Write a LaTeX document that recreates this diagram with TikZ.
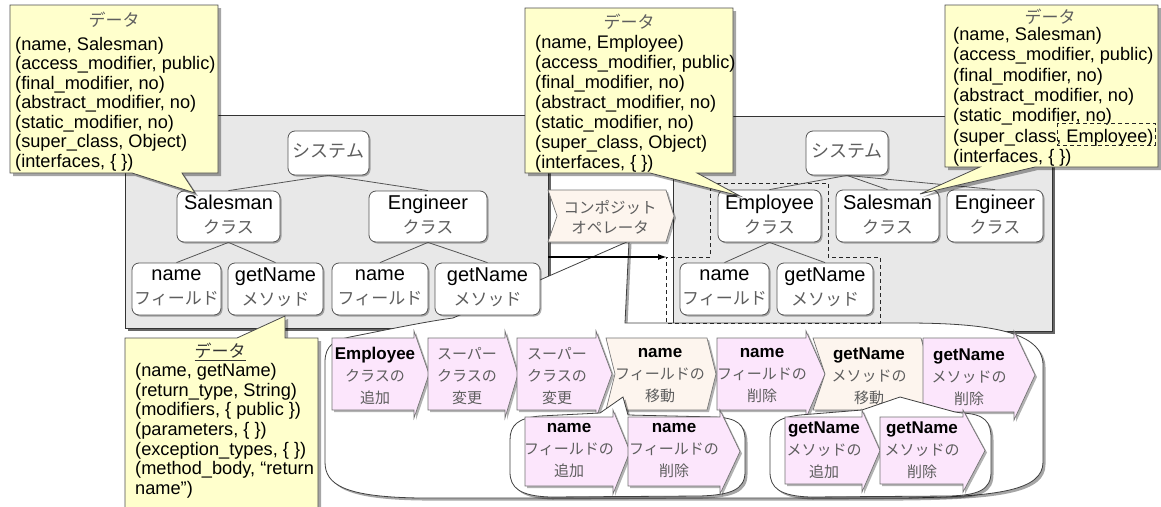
\documentclass[tikz,border=0pt]{standalone}
\usepackage{fontspec}
\setmainfont{Liberation Sans}
\newfontfamily\jp{Noto Sans CJK JP}
\usetikzlibrary{shadows,arrows.meta}
\definecolor{panelgray}{HTML}{E8E8E8}
\definecolor{calloutyellow}{HTML}{FFFFCC}
\definecolor{chevpink}{HTML}{FCE6FC}
\definecolor{chevbeige}{HTML}{FDF5EE}
\definecolor{jpgray}{HTML}{5E5E5E}
\definecolor{edgegray}{HTML}{555555}
\newcommand{\Jt}[1]{{\jp\mdseries\fontsize{17}{24}\selectfont\color{jpgray}#1}}
\newcommand{\Js}[1]{{\jp\mdseries\fontsize{15}{22}\selectfont\color{jpgray}#1}}
\newcommand{\ArrBox}[5]{%
  \path[chpink] (#1,#4) -- (#2,#4) -- (#2,#4-7) -- (#3,{(#4+#5)/2}) -- (#2,#5+8) -- (#2,#5) -- (#1,#5) -- cycle;}
\newcommand{\ChevBox}[6]{%
  \path[chbeige] (#1,#5) -- (#3,#5) -- (#4,{(#5+#6)/2}) -- (#3,#6) -- (#1,#6) -- (#2,{(#5+#6)/2}) -- cycle;}
\begin{document}
\begin{tikzpicture}[x=1pt,y=-1pt,
  panel/.style={draw=black!80, fill=panelgray, line width=0.8pt,
    drop shadow={shadow xshift=2.5pt, shadow yshift=-2.5pt, fill=black!60, opacity=1}},
  tbox/.style={draw=edgegray, fill=white, rounded corners=7pt, line width=0.8pt, inner sep=0pt,
    align=center, font=\fontsize{20}{24}\selectfont, execute at begin node={\vphantom{Eg}},
    drop shadow={shadow xshift=1.5pt, shadow yshift=-1.5pt, fill=black, opacity=0.3}},
  sysbox/.style={tbox, execute at begin node={}, font=\jp\fontsize{18}{22}\selectfont, text=jpgray},
  callout/.style={draw=black!70, fill=calloutyellow, line width=0.8pt,
    drop shadow={shadow xshift=3pt, shadow yshift=-3pt, fill=black, opacity=0.35}},
  ctext/.style={anchor=north west, inner sep=0pt, align=left},
  ctitle/.style={inner sep=0pt, font=\jp\fontsize{17}{20}\selectfont, text=jpgray},
  chpink/.style={draw=black!55, fill=chevpink, line width=0.7pt,
    drop shadow={shadow xshift=2pt, shadow yshift=-2pt, fill=black, opacity=0.3}},
  chbeige/.style={draw=black!55, fill=chevbeige, line width=0.7pt,
    drop shadow={shadow xshift=2pt, shadow yshift=-2pt, fill=black, opacity=0.3}},
  chtext/.style={inner sep=0pt, align=center, font=\fontsize{17}{22}\selectfont\bfseries,
    execute at begin node={\vphantom{Ep}}},
  bubble/.style={draw=black!75, fill=white, line width=0.8pt,
    drop shadow={shadow xshift=2.5pt, shadow yshift=-2.5pt, fill=black, opacity=0.35}},
  link/.style={draw=edgegray, line width=0.8pt},
  dashline/.style={draw=black!85, line width=0.8pt, dash pattern=on 4pt off 3pt}
]
\path[use as bounding box] (0,0) rectangle (1161,506);
\clip (0,0) rectangle (1161,506);

% panels
\node[panel, minimum width=423pt, minimum height=213pt, inner sep=0pt] (lpanel) at (336.5,221.5) {};
\node[panel, minimum width=379pt, minimum height=215pt, inner sep=0pt] (rpanel) at (862.5,223.5) {};

% big bubble (callout of the composite operator)
\path[bubble] (453,318) -- (629,241) -- (625,323) -- (905,323)
  .. controls (990,323) and (1043,332) .. (1043,365) -- (1043,462)
  .. controls (1043,490) and (1000,497) .. (900,498) -- (420,498)
  .. controls (345,497) and (325,485) .. (325,462) -- (325,362)
  .. controls (325,345) and (335,340) .. (350,337)
  .. controls (400,327) and (430,321) .. (453,318) -- cycle;

% composite operator
\ChevBox{548}{557}{666}{674}{190}{242}
\node[inner sep=0pt, align=center, font=\jp\fontsize{15.5}{20}\selectfont, text=jpgray] (op) at (610,217) {コンポジット\\オペレータ};

% left tree
\node[sysbox, minimum width=81pt, minimum height=44pt] (sysL) at (328.5,153) {システム};
\node[tbox, minimum width=103pt, minimum height=51pt] (salL) at (228.5,216.5) {Salesman\\\Jt{クラス}};
\node[tbox, minimum width=118pt, minimum height=51pt] (engL) at (428,216.5) {Engineer\\\Jt{クラス}};
\node[tbox, minimum width=89pt, minimum height=52pt] (nameL1) at (176.5,289) {name\\\Jt{フィールド}};
\node[tbox, minimum width=95pt, minimum height=52pt] (getL1) at (275.5,289) {getName\\\Jt{メソッド}};
\node[tbox, minimum width=96pt, minimum height=52pt] (nameL2) at (380,289) {name\\\Jt{フィールド}};
\node[tbox, minimum width=105pt, minimum height=52pt] (getL2) at (487.5,289) {getName\\\Jt{メソッド}};
\draw[link] (sysL.south) -- (salL.north);
\draw[link] (sysL.south) -- (engL.north);
\draw[link] (salL.south) -- (nameL1.north);
\draw[link] (salL.south) -- (getL1.north);
\draw[link] (engL.south) -- (nameL2.north);
\draw[link] (engL.south) -- (getL2.north);

% dashed region and arrow
\path[dashline] (710,183) -- (828,183) -- (828,257) -- (880,257) -- (880,323) -- (666,323) -- (666,257) -- (710,257) -- cycle;
\coordinate (arrS) at (548,257);
\coordinate (arrE) at (667,257);
\draw[line width=1.5pt, -{Latex[length=9pt,width=6pt]}] (arrS) -- (arrE);

% right tree
\node[sysbox, minimum width=82pt, minimum height=44pt] (sysR) at (847,153) {システム};
\node[tbox, minimum width=103pt, minimum height=52pt] (empR) at (769.5,216) {Employee\\\Jt{クラス}};
\node[tbox, minimum width=103pt, minimum height=52pt] (salR) at (887.5,216) {Salesman\\\Jt{クラス}};
\node[tbox, minimum width=96pt, minimum height=52pt] (engR) at (995,216) {Engineer\\\Jt{クラス}};
\node[tbox, minimum width=89pt, minimum height=52pt] (nameR) at (724.5,289) {name\\\Jt{フィールド}};
\node[tbox, minimum width=96pt, minimum height=52pt] (getR) at (825,289) {getName\\\Jt{メソッド}};
\draw[link] (sysR.south) -- (empR.north);
\draw[link] (sysR.south) -- (salR.north);
\draw[link] (sysR.south) -- (engR.north);
\draw[link] (empR.south) -- (nameR.north);
\draw[link] (empR.south) -- (getR.north);

% top-left callout
\path[callout] (10,5) -- (218,5) -- (218,173) -- (182,173) -- (195,193) -- (132,173) -- (10,173) -- cycle;
\node[ctitle] (d1t) at (114,20) {データ};
\node[ctext, font=\fontsize{18.2}{19.5}\selectfont] (d1) at (15,37) {(name, Salesman)\\(access\_modifier, public)\\(final\_modifier, no)\\(abstract\_modifier, no)\\(static\_modifier, no)\\(super\_class, Object)\\(interfaces, \{ \})};

% top-middle callout
\path[callout] (525,8) -- (733,8) -- (733,173) -- (697,173) -- (740,196) -- (650,173) -- (525,173) -- cycle;
\node[ctitle] (d2t) at (629,22) {データ};
\node[ctext, font=\fontsize{18.2}{20.1}\selectfont] (d2) at (535,35) {(name, Employee)\\(access\_modifier, public)\\(final\_modifier, no)\\(abstract\_modifier, no)\\(static\_modifier, no)\\(super\_class, Object)\\(interfaces, \{ \})};

% top-right callout
\path[callout] (945,5) -- (1158,5) -- (1158,167) -- (1035,167) -- (920,194) -- (980,167) -- (945,167) -- cycle;
\node[ctitle] (d3t) at (1050,17) {データ};
\node[ctext, font=\fontsize{18.2}{20.4}\selectfont] (d3) at (953,27) {(name, Salesman)\\(access\_modifier, public)\\(final\_modifier, no)\\(abstract\_modifier, no)\\(static\_modifier, no)\\(super\_class, Employee)\\(interfaces, \{ \})};
\path[dashline] (1057,123) rectangle (1155,145);

% bottom-left callout
\path[callout] (125,338) -- (237,338) -- (285,316) -- (285,338) -- (318,338) -- (318,520) -- (125,520) -- cycle;
\node[ctitle, text=black!80] (d4t) at (220,352) {\underline{データ}};
\node[ctext, font=\fontsize{18.2}{19.7}\selectfont] (d4) at (135,363) {(name, getName)\\(return\_type, String)\\(modifiers, \{ public \})\\(parameters, \{ \})\\(exception\_types, \{ \})\\(method\_body, “return\\name”)};

% row 1 of steps
\ArrBox{332}{414}{429}{338}{410}
\node[chtext] (a1) at (375,377) {Employee\\\Js{クラスの}\\\Js{追加}};
\ArrBox{428}{505}{518}{338}{410}
\node[chtext] (a2) at (467,377) {\Js{スーパー}\\\Js{クラスの}\\\Js{変更}};
\ArrBox{517}{596}{612}{338}{410}
\node[chtext] (a3) at (557,377) {\Js{スーパー}\\\Js{クラスの}\\\Js{変更}};
\ChevBox{606}{615}{707}{716}{338}{410}
\node[chtext] (a4) at (660,377) {name\\\Js{フィールドの}\\\Js{移動}};
\ArrBox{717}{806}{825}{338}{410}
\node[chtext] (a5) at (762,377) {name\\\Js{フィールドの}\\\Js{削除}};
\ChevBox{813}{825}{921}{931}{338}{410}
\node[chtext] (a6) at (869,377) {getName\\\Js{メソッドの}\\\Js{移動}};
\ArrBox{923}{1014}{1035}{338}{412}
\node[chtext] (a7) at (969,378) {getName\\\Js{メソッドの}\\\Js{削除}};

% inner bubbles
\path[bubble] (600,413) -- (623,397) -- (628,415) -- (715,417)
  .. controls (738,418) and (745,425) .. (745,440) -- (745,472)
  .. controls (745,490) and (730,495) .. (700,496) -- (550,497)
  .. controls (520,496) and (510,488) .. (510,472) -- (510,440)
  .. controls (510,425) and (518,418) .. (540,416) -- cycle;
\path[bubble] (862,410) -- (900,397) -- (955,412) -- (962,413)
  .. controls (985,414) and (991,422) .. (991,438) -- (991,472)
  .. controls (991,490) and (978,495) .. (950,496) -- (810,497)
  .. controls (780,496) and (770,488) .. (770,472) -- (770,440)
  .. controls (770,424) and (776,418) .. (800,415) -- cycle;

% row 2 of steps
\ArrBox{525}{613}{630}{417}{486}
\node[chtext] (b1) at (569,452) {name\\\Js{フィールドの}\\\Js{追加}};
\ArrBox{628}{720}{740}{417}{486}
\node[chtext] (b2) at (674,452) {name\\\Js{フィールドの}\\\Js{削除}};
\ArrBox{785}{862}{880}{417}{484}
\node[chtext] (b3) at (824,451) {getName\\\Js{メソッドの}\\\Js{追加}};
\ArrBox{880}{963}{985}{417}{484}
\node[chtext] (b4) at (922,451) {getName\\\Js{メソッドの}\\\Js{削除}};
\end{tikzpicture}
\end{document}
